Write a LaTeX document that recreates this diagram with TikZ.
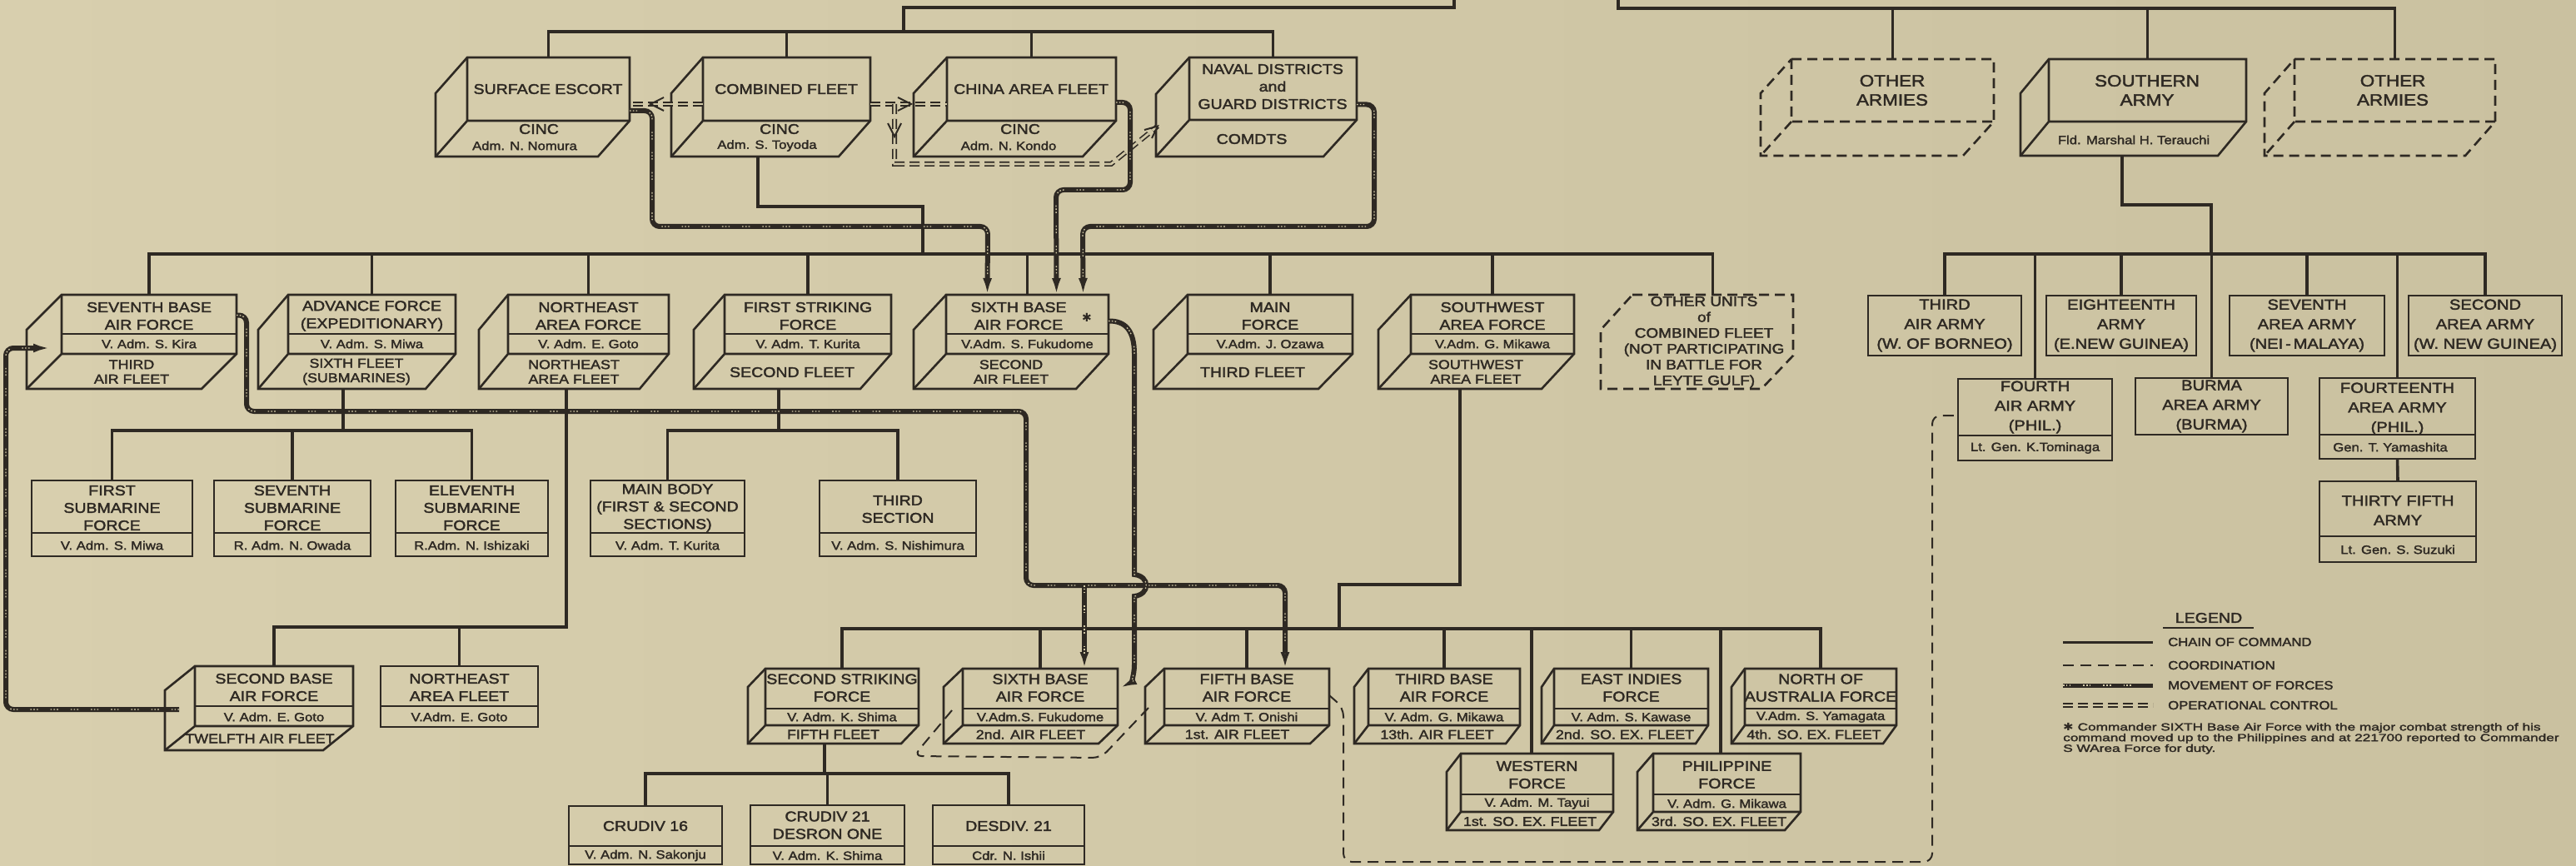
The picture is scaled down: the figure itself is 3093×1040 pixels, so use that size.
\documentclass[tikz,border=0pt]{standalone}
\usepackage{fontspec}
\usepackage{graphicx}
\setmainfont{Liberation Sans}[FakeStretch=1.15, FakeBold=2.2]
\newfontfamily\symf{DejaVu Sans}
\usetikzlibrary{calc,arrows.meta}
\definecolor{ink}{HTML}{2E2923}
\definecolor{bgc}{HTML}{D1C8A6}
\definecolor{bgl}{HTML}{D8CFAE}
\definecolor{bgr}{HTML}{CAC1A0}
\newcommand{\szName}{\fontsize{17}{21}\selectfont}
\newcommand{\szCmd}{\fontsize{14.5}{18}\selectfont}
\newcommand{\szBot}{\fontsize{15.5}{17.5}\selectfont}
\newcommand{\szArmy}{\fontsize{17.5}{23.5}\selectfont}
\newcommand{\szTop}{\fontsize{19.5}{23}\selectfont}
\newcommand{\szLeg}{\fontsize{14.5}{17}\selectfont}
\newcommand{\szFoot}{\fontsize{12.5}{12.5}\selectfont}
\tikzset{
 chainl/.style={draw=ink, line width=3.6pt},
 boxl/.style={draw=ink, line width=2.6pt, line join=miter},
 frontn/.style={inner sep=0pt, outer sep=0pt, draw=none},
 tname/.style={inner sep=0pt, align=center, text=ink, font=\szName},
 tcmd/.style={inner sep=0pt, align=center, text=ink, font=\szCmd},
 tbot/.style={inner sep=0pt, align=center, text=ink, font=\szBot},
 tarmy/.style={inner sep=0pt, align=center, text=ink, font=\szArmy},
 ttop/.style={inner sep=0pt, align=center, text=ink, font=\szTop},
 tou/.style={inner sep=0pt, align=center, text=ink, font=\fontsize{16.5}{19}\selectfont},
 tleg/.style={inner sep=0pt, text=ink, font=\szLeg},
 dashb/.style={dash pattern=on 12pt off 7pt},
 coordl/.style={draw=ink, line width=2pt, dash pattern=on 13pt off 8pt, rounded corners=10pt},
 opl/.style={draw=ink, line width=1.6pt, double=bgc, double distance=2.8pt, dash pattern=on 12pt off 6pt},
 movel/.style={draw=ink, line width=6pt, rounded corners=9pt,
   postaction={draw=bgc, arrows=-, line width=1.3pt, dash pattern=on 1.6pt off 2.2pt on 1.6pt off 2.2pt on 1.6pt off 15pt, shorten >=18pt}},
 arr/.style={-{Latex[length=20pt,width=11pt]}},
 chevl/.style={draw=ink, line width=2pt},
}
% #1 name, #2 L, #3 T, #4 R, #5 M (front bottom), #6 B, #7 depth, #8 extra style
\newcommand{\cubebox}[8]{%
  \node[frontn, minimum width={#4-#2}, minimum height={#5-#3}] (#1) at ({(#2+#4)/2},{(#3+#5)/2}) {};
  \draw[boxl,#8] (#2,#3) -- (#4,#3) -- (#4,#5) -- ({#4-#7},#6) -- ({#2-#7},#6) -- ({#2-#7},{#3+#6-#5}) -- cycle;
  \draw[boxl,#8] (#2,#3) -- (#2,#5) -- (#4,#5) (#2,#5) -- ({#2-#7},#6);
}
\newcommand{\flatbox}[5]{%
  \node[boxl, inner sep=0pt, outer sep=0pt, minimum width={#4-#2}, minimum height={#5-#3}] (#1) at ({(#2+#4)/2},{(#3+#5)/2}) {};
}
\newcommand{\boxdiv}[3]{\draw[boxl] (#1,#3) -- (#2,#3);}
\newcommand{\tx}[4]{\node[#1] (#2) at (#3) {#4};}

\begin{document}
\begin{tikzpicture}[x=1pt,y=-1pt]
\useasboundingbox (0,0) rectangle (3093,1040);
\fill[left color=bgl, right color=bgr] (0,0) rectangle (3093,1040);

% ---------------- boxes: navy level 1
\cubebox{se}{561}{69}{756}{145}{188}{38}{}
\cubebox{cf}{844}{69}{1045}{145}{188}{38}{}
\cubebox{caf}{1137}{69}{1340}{145}{188}{40}{}
\cubebox{nd}{1428}{69}{1629}{144}{188}{40}{}
% army level 1
\cubebox{oa1}{2151}{71}{2394}{146}{187}{37}{dashb}
\cubebox{sa}{2460}{71}{2697}{146}{187}{34}{}
\cubebox{oa2}{2755}{71}{2996}{146}{187}{36}{dashb}
% navy level 2
\cubebox{sbaf7}{74}{354}{284}{425}{467}{42}{}\boxdiv{74}{284}{401}
\cubebox{adv}{346}{354}{547}{425}{467}{36}{}\boxdiv{346}{547}{401}
\cubebox{nea}{610}{354}{803}{425}{467}{35}{}\boxdiv{610}{803}{401}
\cubebox{fsf}{870}{354}{1070}{425}{467}{37}{}\boxdiv{870}{1070}{401}
\cubebox{sbaf6}{1136}{354}{1331}{425}{467}{39}{}\boxdiv{1136}{1331}{401}
\cubebox{mf}{1426}{354}{1624}{425}{467}{41}{}\boxdiv{1426}{1624}{401}
\cubebox{swaf}{1694}{354}{1890}{425}{467}{39}{}\boxdiv{1694}{1890}{401}
\node[frontn, minimum width=193, minimum height=73] (ou) at (2056.5,390.5) {};
\draw[boxl,dashb] (1960,354) -- (2153,354) -- (2153,427) -- (2115,467) -- (1922,467) -- (1922,396) -- cycle;
% submarine and striking sub-units
\flatbox{fs1}{38}{577}{231}{668}\boxdiv{38}{231}{640}
\flatbox{fs7}{257}{577}{445}{668}\boxdiv{257}{445}{640}
\flatbox{fs11}{475}{577}{658}{668}\boxdiv{475}{658}{640}
\flatbox{mb}{709}{577}{894}{668}\boxdiv{709}{894}{640}
\flatbox{ts}{984}{577}{1172}{668}\boxdiv{984}{1172}{640}
% northeast sub-units
\cubebox{sbaf2}{234}{800}{424}{872}{901}{36}{}\boxdiv{234}{424}{848}
\flatbox{neaf}{457}{800}{646}{873}\boxdiv{457}{646}{848}
% second striking sub-units
\flatbox{cd16}{683}{968}{867}{1038}\boxdiv{683}{867}{1016}
\flatbox{cd21}{901}{967}{1086}{1038}\boxdiv{901}{1086}{1016}
\flatbox{ds21}{1120}{967}{1302}{1038}\boxdiv{1120}{1302}{1016}
% southwest area sub-units
\cubebox{ssf}{919}{803}{1103}{871}{893}{21}{}\boxdiv{919}{1103}{851}
\cubebox{sbaf6b}{1156}{803}{1342}{871}{893}{23}{}\boxdiv{1156}{1342}{851}
\cubebox{fbaf}{1398}{803}{1596}{871}{893}{23}{}\boxdiv{1398}{1596}{851}
\cubebox{tbaf}{1643}{803}{1825}{871}{893}{17}{}\boxdiv{1643}{1825}{851}
\cubebox{eif}{1866}{803}{2051}{871}{893}{15}{}\boxdiv{1866}{2051}{851}
\cubebox{naf}{2095}{803}{2277}{871}{893}{16}{}\boxdiv{2095}{2277}{851}
\cubebox{wf}{1754}{905}{1937}{975}{997}{17}{}\boxdiv{1754}{1937}{954}
\cubebox{pf}{1985}{905}{2162}{975}{997}{19}{}\boxdiv{1985}{2162}{954}
% army level 2
\flatbox{taa}{2243}{355}{2427}{427}
\flatbox{ea}{2457}{355}{2637}{427}
\flatbox{saa7}{2677}{355}{2863}{427}
\flatbox{saa2}{2892}{355}{3076}{427}
\flatbox{faa}{2351}{455}{2536}{553}\boxdiv{2351}{2536}{523}
\flatbox{baa}{2564}{454}{2747}{522}
\flatbox{fta}{2785}{454}{2972}{551}\boxdiv{2785}{2972}{522}
\flatbox{tfa}{2785}{578}{2973}{675}\boxdiv{2785}{2973}{644}

% ---------------- chain of command
\coordinate (nb1) at (1085,38);
\coordinate (nt) at (1746,9);
\draw[chainl] (se.north) |- (nb1) -| (nd.north);
\draw[chainl] (cf.north) -- (cf.north |- nb1);
\draw[chainl] (caf.north) -- (caf.north |- nb1);
\draw[chainl] (nb1) |- (nt) -- ++(0,-15);
\coordinate (at) at (1943,10);
\draw[chainl] ($(at)+(0,-15)$) -- (at) -| (oa2.north);
\draw[chainl] (oa1.north) -- (oa1.north |- at);
\draw[chainl] (sa.north) -- (sa.north |- at);
\coordinate (sa-out) at (2548,187);
\coordinate (ab) at (2655,305);
\draw[chainl] (sa-out) -- (2548,246) -| (ab);
\draw[chainl] (taa.north) |- (ab) -| (saa2.north);
\foreach \n in {ea,saa7,faa,baa,fta} \draw[chainl] (\n.north) -- (\n.north |- ab);
\draw[chainl] (fta.south) -- (tfa.north);

\coordinate (cf-out) at (910,188);
\coordinate (nb2) at (1108,305);
\draw[chainl] (cf-out) |- (1108,248) -- (nb2);
\draw[chainl] (sbaf7.north) |- (nb2) -| (ou.north);
\foreach \n in {adv,nea,fsf,sbaf6,mf,swaf} \draw[chainl] (\n.north) -- (\n.north |- nb2);
\coordinate (adv-out) at (412,467);
\coordinate (sb) at (412,517);
\draw[chainl] (adv-out) -- (sb);
\draw[chainl] (fs1.north) |- (sb) -| (fs11.north);
\draw[chainl] (fs7.north) -- (fs7.north |- sb);
\coordinate (fsf-out) at (935,467);
\coordinate (fb) at (935,517);
\draw[chainl] (fsf-out) -- (fb);
\draw[chainl] (mb.north) |- (fb) -| (ts.north);
\coordinate (nea-out) at (680,467);
\coordinate (neb) at (680,753);
\draw[chainl] (nea-out) -- (neb) -| (sbaf2.north);
\draw[chainl] (neaf.north) -- (neaf.north |- neb);
\coordinate (swaf-out) at (1753,467);
\coordinate (lb) at (1608,755);
\draw[chainl] (swaf-out) |- (1608,702) -- (lb);
\draw[chainl] (ssf.north) |- (lb) -| (naf.north);
\foreach \n in {sbaf6b,fbaf,tbaf,eif} \draw[chainl] (\n.north) -- (\n.north |- lb);
\coordinate (wfd) at (1839,755);
\draw[chainl] (wfd) -- (wfd |- wf.north);
\coordinate (pfd) at (2066,755);
\draw[chainl] (pfd) -- (pfd |- pf.north);
\coordinate (ssf-out) at (990,892);
\coordinate (sb2) at (990,929);
\draw[chainl] (ssf-out) -- (sb2);
\draw[chainl] (cd16.north) |- (sb2) -| (ds21.north);
\draw[chainl] (cd21.north) -- (cd21.north |- sb2);

% ---------------- operational control
\coordinate (o3s) at (1074,125);
\draw[opl] ($(cf.west)+(0,18)$) -- ($(se.east)+(0,18)$);
\draw[opl] ($(cf.east)+(0,18)$) -- ($(caf.west)+(0,18)$);
\draw[opl] (o3s) -- (1074,197) -- (1334,197) -- ($(nd.west)+(-38,45)$);
\draw[chevl] (797,117) -- (781,125) -- (797,133);
\draw[chevl] (1078,117) -- (1094,125) -- (1078,133);
\draw[chevl] (1066,148) -- (1074,164) -- (1082,148);
\draw[chevl] (1374,156) -- (1390,151.5) -- (1383,166);

% ---------------- coordination
\draw[coordl] ($(sbaf6b.west)+(-13,16)$) -- (1097,908) -- (1322,910) -- ($(fbaf.west)+(-19,13)$);
\draw[coordl] ($(fbaf.east)+(0,-2)$) -- (1613,850) -- (1613,1035) -- (2320,1035) -- (2320,499) -- ($(faa.west)+(0,-5)$);

% ---------------- movement of forces
\draw[movel,arr] ($(se.east)+(0,26)$) -- ++(27,0) |- (1186,272) -- ($(sbaf6.north)+(-48,0)$);
\draw[movel,arr] ($(caf.east)+(0,16)$) -- ++(17,0) |- (1268,228) -- ($(sbaf6.north)+(35,0)$);
\draw[movel,arr] ($(nd.east)+(0,19)$) -- ++(21,0) |- (1300,272) -- ($(sbaf6.north)+(67,0)$);
\draw[movel,arr] ($(sbaf7.east)+(0,-11)$) -- ++(12,0) |- (1232,494) |- ($(fbaf.north)+(46,-100)$) -- ($(fbaf.north)+(46,0)$);
\coordinate (m4b) at (1302,703);
\draw[movel,arr] (m4b) -- ($(sbaf6b.north)+(53,0)$);
\draw[movel,arr,sharp corners] ($(sbaf6.east)+(0,-4)$) .. controls (1352,385) and (1362,398) .. (1362,425) -- (1362,690) .. controls (1381,692) and (1381,714) .. (1362,716) -- (1362,798) .. controls (1362,812) and (1357,820) .. ($(sbaf6b.east)+(3,-11)$);
\draw[movel,arr] ($(sbaf2.west)+(-19,16)$) -| (7,418) -- ($(sbaf7.west)+(-14,28.5)$);

% ---------------- texts
\tx{tname}{se-n}{658,107}{SURFACE ESCORT}
\tx{tname}{se-c}{647,155}{CINC}
\tx{tcmd}{se-a}{630,175}{Adm. N. Nomura}
\tx{tname}{cf-n}{944,107}{COMBINED FLEET}
\tx{tname}{cf-c}{936,155}{CINC}
\tx{tcmd}{cf-a}{921,175}{Adm. S. Toyoda}
\tx{tname}{caf-n}{1238,107}{CHINA AREA FLEET}
\tx{tname}{caf-c}{1225,155}{CINC}
\tx{tcmd}{caf-a}{1211,175}{Adm. N. Kondo}
\tx{tname}{nd-n}{1528,104}{NAVAL DISTRICTS\\and\\GUARD DISTRICTS}
\tx{tname}{nd-c}{1503,167}{COMDTS}
\tx{ttop}{oa1-n}{2272,108.5}{OTHER\\ARMIES}
\tx{ttop}{sa-n}{2578,108.5}{SOUTHERN\\ARMY}
\tx{tcmd}{sa-c}{2562,168}{Fld. Marshal H. Terauchi}
\tx{ttop}{oa2-n}{2873,108.5}{OTHER\\ARMIES}

\tx{tname}{sbaf7-n}{179,379.5}{SEVENTH BASE\\AIR FORCE}
\tx{tcmd}{sbaf7-c}{179,413}{V. Adm. S. Kira}
\tx{tbot}{sbaf7-b}{158,446.5}{THIRD\\AIR FLEET}
\tx{tname}{adv-n}{446.5,379.5}{ADVANCE FORCE\\(EXPEDITIONARY)}
\tx{tcmd}{adv-c}{446.5,413}{V. Adm. S. Miwa}
\tx{tbot}{adv-b}{428,446.5}{SIXTH FLEET\\(SUBMARINES)}
\tx{tname}{nea-n}{706.5,379.5}{NORTHEAST\\AREA FORCE}
\tx{tcmd}{nea-c}{706.5,413}{V. Adm. E. Goto}
\tx{tbot}{nea-b}{689,446.5}{NORTHEAST\\AREA FLEET}
\tx{tname}{fsf-n}{970,379.5}{FIRST STRIKING\\FORCE}
\tx{tcmd}{fsf-c}{970,413}{V. Adm. T. Kurita}
\tx{tname}{fsf-b}{951,447}{SECOND FLEET}
\tx{tname}{sbaf6-n}{1223,379.5}{SIXTH BASE\\AIR FORCE}
\node[inner sep=0pt, text=ink, font=\fontsize{14}{14}\selectfont] (sbaf6-s) at (1305,381) {\symf ✱};
\tx{tcmd}{sbaf6-c}{1233.5,413}{V.Adm. S. Fukudome}
\tx{tbot}{sbaf6-b}{1214,446.5}{SECOND\\AIR FLEET}
\tx{tname}{mf-n}{1525,379.5}{MAIN\\FORCE}
\tx{tcmd}{mf-c}{1525,413}{V.Adm. J. Ozawa}
\tx{tname}{mf-b}{1504,447}{THIRD FLEET}
\tx{tname}{swaf-n}{1792,379.5}{SOUTHWEST\\AREA FORCE}
\tx{tcmd}{swaf-c}{1792,413}{V.Adm. G. Mikawa}
\tx{tbot}{swaf-b}{1772,446.5}{SOUTHWEST\\AREA FLEET}
\tx{tou}{ou-t}{2046,411}{OTHER UNITS\\of\\COMBINED FLEET\\(NOT PARTICIPATING\\IN BATTLE FOR\\LEYTE GULF)}

\tx{tname}{fs1-n}{134.5,610}{FIRST\\SUBMARINE\\FORCE}
\tx{tcmd}{fs1-c}{134.5,655}{V. Adm. S. Miwa}
\tx{tname}{fs7-n}{351,610}{SEVENTH\\SUBMARINE\\FORCE}
\tx{tcmd}{fs7-c}{351,655}{R. Adm. N. Owada}
\tx{tname}{fs11-n}{566.5,610}{ELEVENTH\\SUBMARINE\\FORCE}
\tx{tcmd}{fs11-c}{566.5,655}{R.Adm. N. Ishizaki}
\tx{tname}{mb-n}{801.5,610}{MAIN BODY\\(FIRST \& SECOND\\SECTIONS)}
\tx{tcmd}{mb-c}{801.5,655}{V. Adm. T. Kurita}
\tx{tname}{ts-n}{1078,611.5}{THIRD\\SECTION}
\tx{tcmd}{ts-c}{1078,655}{V. Adm. S. Nishimura}

\tx{tname}{sbaf2-n}{329,825.5}{SECOND BASE\\AIR FORCE}
\tx{tcmd}{sbaf2-c}{329,861}{V. Adm. E. Goto}
\tx{tbot}{sbaf2-b}{312,887}{TWELFTH AIR FLEET}
\tx{tname}{neaf-n}{551.5,825.5}{NORTHEAST\\AREA FLEET}
\tx{tcmd}{neaf-c}{551.5,861}{V.Adm. E. Goto}

\tx{tname}{cd16-n}{775,992}{CRUDIV 16}
\tx{tcmd}{cd16-c}{775,1027.5}{V. Adm. N. Sakonju}
\tx{tname}{cd21-n}{993.5,991}{CRUDIV 21\\DESRON ONE}
\tx{tcmd}{cd21-c}{993.5,1027.5}{V. Adm. K. Shima}
\tx{tname}{ds21-n}{1211,992}{DESDIV. 21}
\tx{tcmd}{ds21-c}{1211,1027.5}{Cdr. N. Ishii}

\tx{tname}{ssf-n}{1011,826}{SECOND STRIKING\\FORCE}
\tx{tcmd}{ssf-c}{1011,861}{V. Adm. K. Shima}
\tx{tbot}{ssf-b}{1000.5,882}{FIFTH FLEET}
\tx{tname}{sbaf6b-n}{1249,826}{SIXTH BASE\\AIR FORCE}
\tx{tcmd}{sbaf6b-c}{1249,861}{V.Adm.S. Fukudome}
\tx{tbot}{sbaf6b-b}{1237.5,882}{2nd. AIR FLEET}
\tx{tname}{fbaf-n}{1497,826}{FIFTH BASE\\AIR FORCE}
\tx{tcmd}{fbaf-c}{1497,861}{V. Adm T. Onishi}
\tx{tbot}{fbaf-b}{1485.5,882}{1st. AIR FLEET}
\tx{tname}{tbaf-n}{1734,826}{THIRD BASE\\AIR FORCE}
\tx{tcmd}{tbaf-c}{1734,861}{V. Adm. G. Mikawa}
\tx{tbot}{tbaf-b}{1725.5,882}{13th. AIR FLEET}
\tx{tname}{eif-n}{1958.5,826}{EAST INDIES\\FORCE}
\tx{tcmd}{eif-c}{1958.5,861}{V. Adm. S. Kawase}
\tx{tbot}{eif-b}{1951,882}{2nd. SO. EX. FLEET}
\tx{tname}{naf-n}{2186,826}{NORTH OF\\AUSTRALIA FORCE}
\tx{tcmd}{naf-c}{2186,861}{V.Adm. S. Yamagata}
\tx{tbot}{naf-b}{2178,882}{4th. SO. EX. FLEET}
\tx{tname}{wf-n}{1845.5,930.5}{WESTERN\\FORCE}
\tx{tcmd}{wf-c}{1845.5,965}{V. Adm. M. Tayui}
\tx{tbot}{wf-b}{1837,986.5}{1st. SO. EX. FLEET}
\tx{tname}{pf-n}{2073.5,930.5}{PHILIPPINE\\FORCE}
\tx{tcmd}{pf-c}{2073.5,965}{V. Adm. G. Mikawa}
\tx{tbot}{pf-b}{2064,986.5}{3rd. SO. EX. FLEET}

\tx{tarmy}{taa-n}{2335,391}{THIRD\\AIR ARMY\\(W. OF BORNEO)}
\tx{tarmy}{ea-n}{2547,391}{EIGHTEENTH\\ARMY\\(E.NEW GUINEA)}
\tx{tarmy}{saa7-n}{2770,391}{SEVENTH\\AREA ARMY\\(NEI\,-\,MALAYA)}
\tx{tarmy}{saa2-n}{2984,391}{SECOND\\AREA ARMY\\(W. NEW GUINEA)}
\tx{tarmy}{faa-n}{2443.5,489}{FOURTH\\AIR ARMY\\(PHIL.)}
\tx{tcmd}{faa-c}{2443.5,538}{Lt. Gen. K.Tominaga}
\tx{tarmy}{baa-n}{2655.5,488}{BURMA\\AREA ARMY\\(BURMA)}
\tx{tarmy}{fta-n}{2878.5,491}{FOURTEENTH\\AREA ARMY\\(PHIL.)}
\tx{tcmd}{fta-c}{2870,537}{Gen. T. Yamashita}
\tx{tarmy}{tfa-n}{2879,613}{THIRTY FIFTH\\ARMY}
\tx{tcmd}{tfa-c}{2879,660}{Lt. Gen. S. Suzuki}

% ---------------- legend
\node[inner sep=0pt, text=ink, font=\fontsize{17}{17}\selectfont] (lg-t) at (2652,742) {LEGEND};
\draw[boxl, line width=2pt] (2597,754) -- (2706,754);
\coordinate (l1a) at (2477,771); \coordinate (l1b) at (2585,771);
\coordinate (l2a) at (2477,799); \coordinate (l2b) at (2585,799);
\coordinate (l3a) at (2477,823); \coordinate (l3b) at (2585,823);
\coordinate (l4a) at (2477,847); \coordinate (l4b) at (2585,847);
\draw[chainl, line width=3pt] (l1a) -- (l1b);
\draw[coordl] (l2a) -- (l2b);
\draw[movel, line width=5pt] (l3a) -- (l3b);
\draw[opl] (l4a) -- (l4b);
\node[tleg, anchor=west] (lg1) at (2603,771) {CHAIN OF COMMAND};
\node[tleg, anchor=west] (lg2) at (2603,799) {COORDINATION};
\node[tleg, anchor=west] (lg3) at (2603,823) {MOVEMENT OF FORCES};
\node[tleg, anchor=west] (lg4) at (2603,847) {OPERATIONAL CONTROL};
\node[anchor=north west, inner sep=0pt, text=ink, font=\szFoot] (fn) at (2477,868)
 {\scalebox{1.2}[1]{\begin{tabular}{@{}l@{}}{\symf ✱} Commander SIXTH Base Air Force with the major combat strength of his\\command moved up to the Philippines and at 221700 reported to Commander\\S WArea Force for duty.\end{tabular}}};
\end{tikzpicture}
\end{document}
